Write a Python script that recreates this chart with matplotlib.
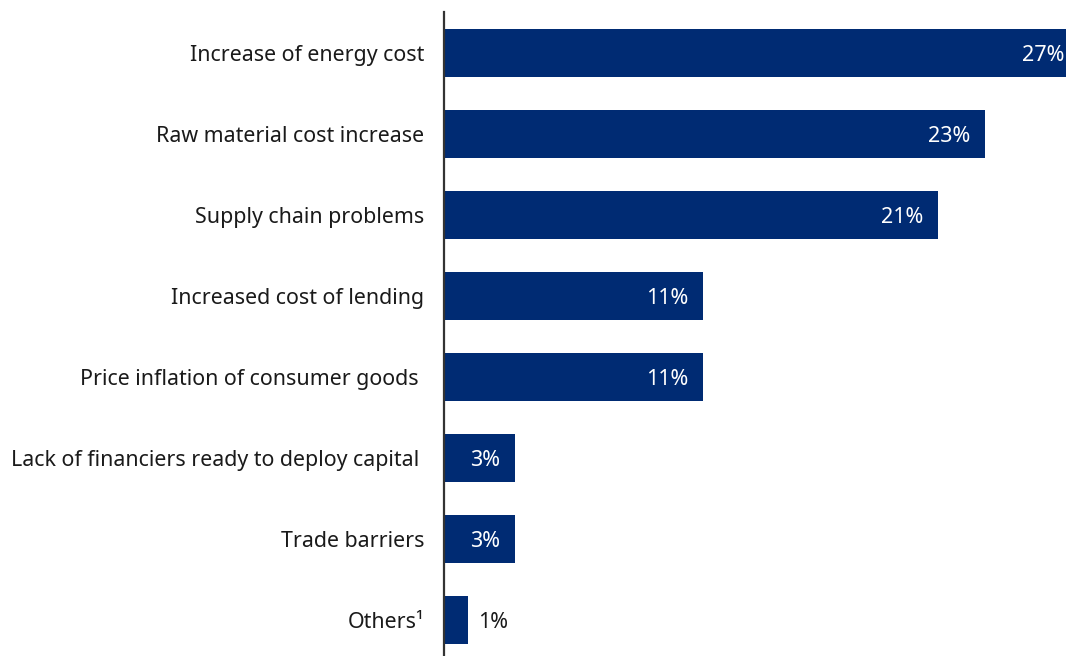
import matplotlib.pyplot as plt

plt.rcParams['font.family'] = ['Noto Sans', 'DejaVu Sans']

categories = ['Increase of energy cost', 'Raw material cost increase',
              'Supply chain problems', 'Increased cost of lending',
              'Price inflation of consumer goods ',
              'Lack of financiers ready to deploy capital ',
              'Trade barriers', 'Others\u00b9']
shares = [27, 23, 21, 11, 11, 3, 3, 1]

NAVY = '#002b73'
W, H = 1066, 656
fig = plt.figure(figsize=(W / 100, H / 100), dpi=100)
# axes spans from the baseline to the right edge of the figure
left, top = 444, 12
ax = fig.add_axes([left / W, 0, 1 - left / W, (H - top) / H])

ypos = list(range(len(categories)))
ax.barh(ypos, shares, height=0.6, color=NAVY)

# 23.5 px per percentage point; the largest bar runs off the edge
ax.set_xlim(0, (W - left) / 23.5)
ax.set_ylim(7 + 36 / 81, -41 / 81)

for y, v in zip(ypos, shares):
    if v >= 3:
        ax.annotate(f'{v}%', (v, y), xytext=(-14, 0), textcoords='offset pixels',
                    ha='right', va='center_baseline', color='white', fontsize=15.5,
                    annotation_clip=False)
    else:
        ax.annotate(f'{v}%', (v, y), xytext=(11, 0), textcoords='offset pixels',
                    ha='left', va='center_baseline', color='#1a1a1a', fontsize=15.5)

ax.set_yticks(ypos)
ax.set_yticklabels(categories, fontsize=15.4, color='#1a1a1a', va='center_baseline')
ax.tick_params(axis='y', length=0, pad=14)
ax.set_xticks([])
for s in ['top', 'right', 'bottom']:
    ax.spines[s].set_visible(False)
ax.spines['left'].set_color('#333333')
ax.spines['left'].set_linewidth(1.6)

fig.savefig('out.png', dpi=100)
